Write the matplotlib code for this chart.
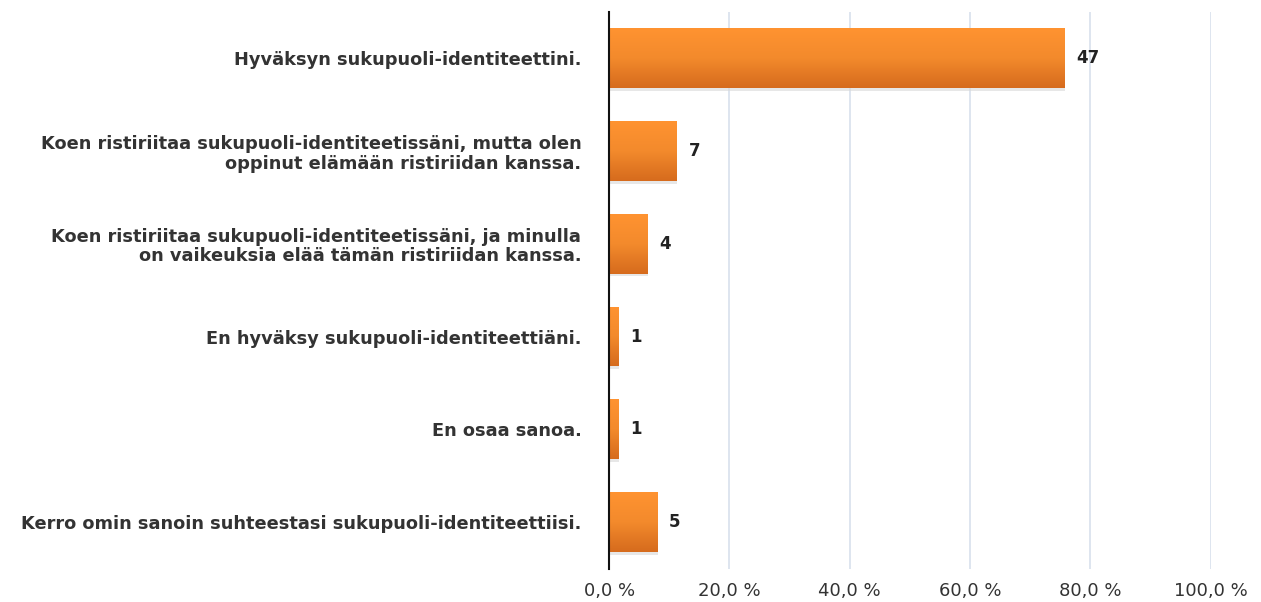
import numpy as np
import matplotlib.pyplot as plt
from matplotlib.colors import LinearSegmentedColormap

categories = [
    "Hyväksyn sukupuoli-identiteettini.",
    "Koen ristiriitaa sukupuoli-identiteetissäni, mutta olen\noppinut elämään ristiriidan kanssa.",
    "Koen ristiriitaa sukupuoli-identiteetissäni, ja minulla\non vaikeuksia elää tämän ristiriidan kanssa.",
    "En hyväksy sukupuoli-identiteettiäni.",
    "En osaa sanoa.",
    "Kerro omin sanoin suhteestasi sukupuoli-identiteettiisi.",
]
counts = [47, 7, 4, 1, 1, 5]
respondents = 62
percents = [c / respondents * 100 for c in counts]
xticks = [0, 20, 40, 60, 80, 100]

plt.rcParams['font.family'] = ['DejaVu Sans']

fig = plt.figure(figsize=(12.61, 6.02), dpi=100)
ax = fig.add_axes([0.483, 0.0556, 0.477, 0.925])

y = np.arange(len(categories))
h = 0.645
cmap = LinearSegmentedColormap.from_list("org", ["#ff9331", "#f38a2c", "#d66b1d"])
grad = np.linspace(0, 1, 100).reshape(-1, 1)

for yi, p in zip(y, percents):
    # soft shadow under the bar
    ax.barh(yi + 0.03, p, height=h, color="#d8d8d8", alpha=0.6, zorder=2)
    bar = ax.barh(yi, p, height=h, color="#f08a2a", zorder=3)[0]
    im = ax.imshow(grad, cmap=cmap, aspect="auto", zorder=4,
                   extent=[0, p, yi + h / 2, yi - h / 2])
    im.set_clip_path(bar)

for yi, p, c in zip(y, percents, counts):
    ax.text(p + 1.9, yi, str(c), va="center", ha="left", fontsize=12,
            fontweight="bold", color="#222222")

ax.set_xlim(0, 100)
ax.set_ylim(len(categories) - 0.5, -0.5)
ax.set_xticks(xticks)
ax.set_xticklabels([f"{t:.1f} %".replace(".", ",") for t in xticks],
                   fontsize=13, color="#333333")
ax.set_yticks(y)
ax.set_yticklabels(categories, fontsize=12.8, color="#333333",
                   fontweight="semibold", linespacing=1.12)
ax.tick_params(axis="both", length=0)
ax.tick_params(axis="y", pad=20)
ax.tick_params(axis="x", pad=10)

ax.grid(axis="x", color="#dbe3ee", linewidth=1.3, zorder=0)
ax.set_axisbelow(True)
for s in ["top", "right", "bottom"]:
    ax.spines[s].set_visible(False)
ax.spines["left"].set_color("#111111")
ax.spines["left"].set_linewidth(1.5)
ax.spines["left"].set_zorder(5)

fig.savefig("out.png", dpi=100)
